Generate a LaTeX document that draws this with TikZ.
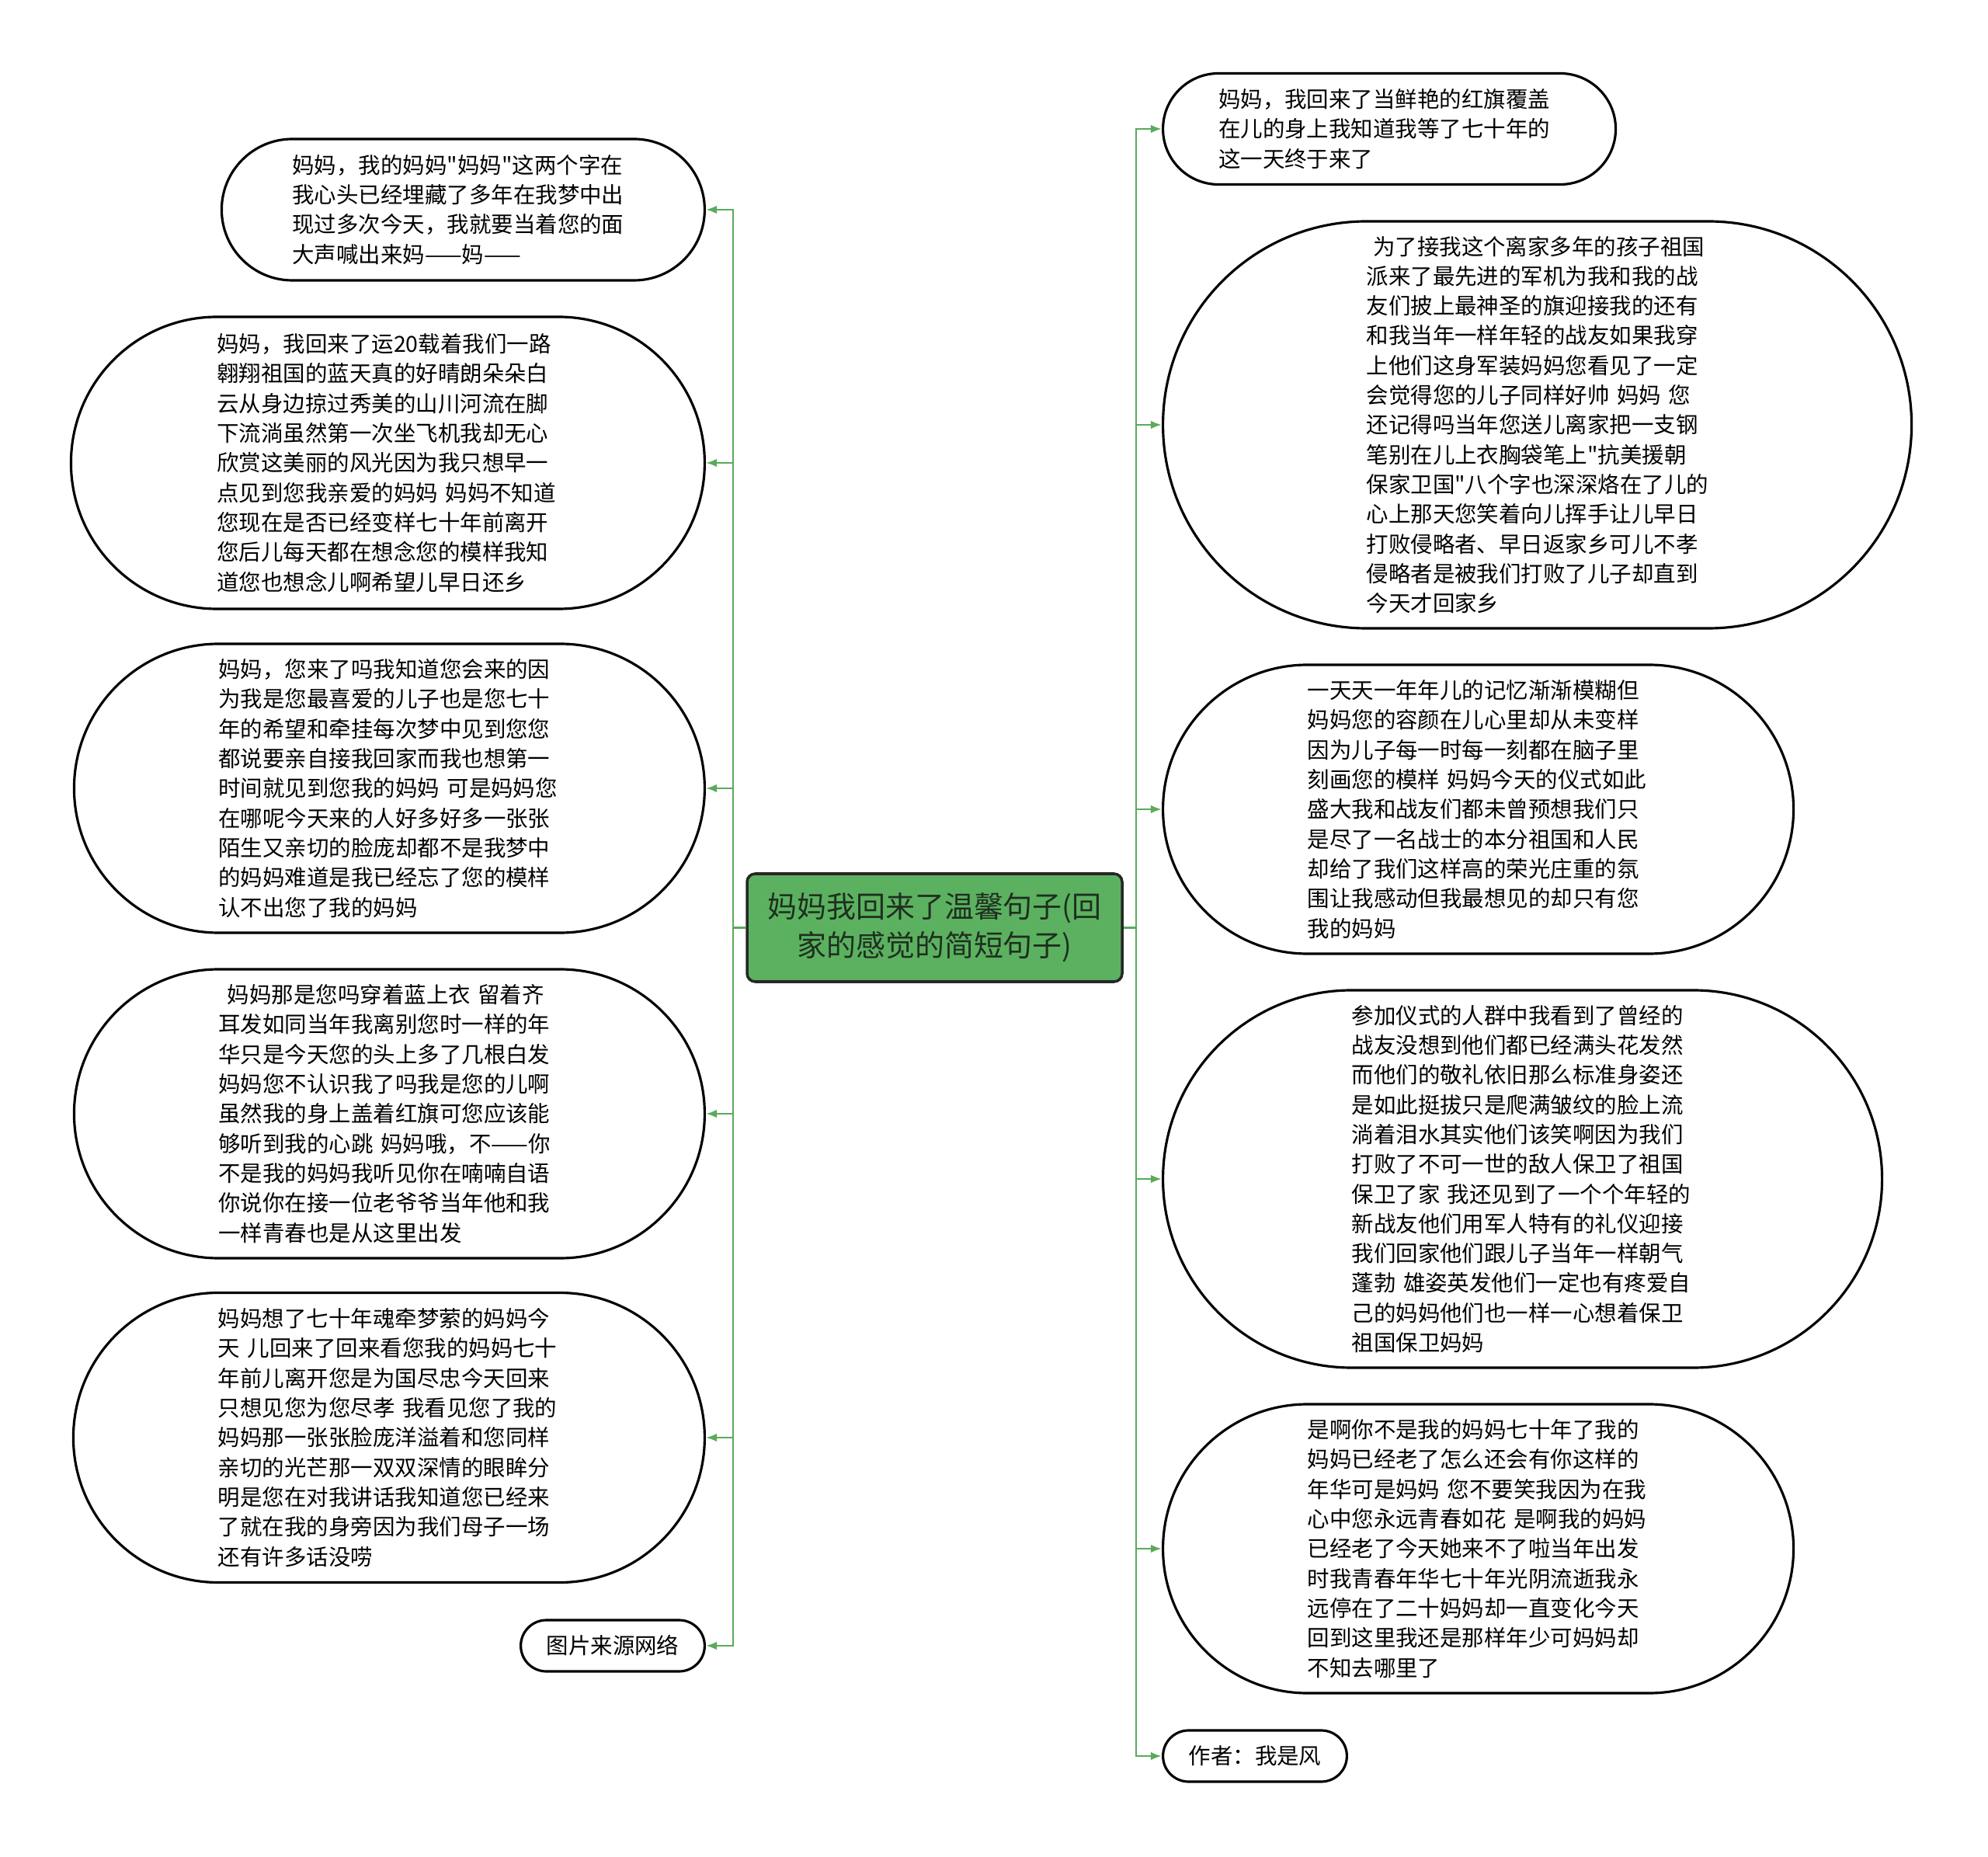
\documentclass[tikz,border=0pt]{standalone}
\usepackage{fontspec}
\setmainfont{Noto Sans CJK SC}[Ligatures=TeXOff]
\usetikzlibrary{arrows.meta}
\definecolor{branch}{HTML}{5AAA5C}
\definecolor{rootfill}{HTML}{5BB160}
\definecolor{rootink}{HTML}{1F2F1F}

\begin{document}
\begin{tikzpicture}[
  bubble/.style={rectangle,draw=black,line width=0.9pt,fill=white,minimum height=#1,rounded corners=#1/2,
    inner xsep=#1/2,inner ysep=5pt,text width=4.4cm,align=left,font=\fontsize{8.1pt}{10.9pt}\selectfont},
  tag/.style={rectangle,draw=black,line width=0.9pt,fill=white,minimum height=0.66cm,rounded corners=0.33cm,
    inner xsep=0.33cm,inner ysep=5pt,font=\fontsize{8.1pt}{10.9pt}\selectfont},
  root/.style={draw=black!85,line width=1pt,fill=rootfill,rounded corners=3pt,minimum width=4.83cm,
    minimum height=1.39cm,align=center,text=rootink,font=\fontsize{10.8pt}{14.2pt}\selectfont},
  link/.style={draw=branch,line width=0.7pt},
  ar/.style={link,-{Latex[length=4pt,width=3pt]}}]

\useasboundingbox (0,0) rectangle (25.6,-23.91);

% root
\node[root] (root) at (12.035,-11.945) {妈妈我回来了温馨句子(回\\家的感觉的简短句子)};

% left branch
\node[bubble=1.82cm,anchor=east] (l1) at (9.09,-2.70) {妈妈，我的妈妈"妈妈"这两个字在\\我心头已经埋藏了多年在我梦中出\\现过多次今天，我就要当着您的面\\大声喊出来妈——妈——};
\node[bubble=3.76cm,anchor=east] (l2) at (9.09,-5.96) {妈妈，我回来了运20载着我们一路\\翱翔祖国的蓝天真的好晴朗朵朵白\\云从身边掠过秀美的山川河流在脚\\下流淌虽然第一次坐飞机我却无心\\欣赏这美丽的风光因为我只想早一\\点见到您我亲爱的妈妈 妈妈不知道\\您现在是否已经变样七十年前离开\\您后儿每天都在想念您的模样我知\\道您也想念儿啊希望儿早日还乡};
\node[bubble=3.72cm,anchor=east] (l3) at (9.09,-10.15) {妈妈，您来了吗我知道您会来的因\\为我是您最喜爱的儿子也是您七十\\年的希望和牵挂每次梦中见到您您\\都说要亲自接我回家而我也想第一\\时间就见到您我的妈妈 可是妈妈您\\在哪呢今天来的人好多好多一张张\\陌生又亲切的脸庞却都不是我梦中\\的妈妈难道是我已经忘了您的模样\\认不出您了我的妈妈};
\node[bubble=3.72cm,anchor=east] (l4) at (9.09,-14.34) {\hspace*{0.4em}妈妈那是您吗穿着蓝上衣 留着齐\\耳发如同当年我离别您时一样的年\\华只是今天您的头上多了几根白发\\妈妈您不认识我了吗我是您的儿啊\\虽然我的身上盖着红旗可您应该能\\够听到我的心跳 妈妈哦，不——你\\不是我的妈妈我听见你在喃喃自语\\你说你在接一位老爷爷当年他和我\\一样青春也是从这里出发};
\node[bubble=3.73cm,anchor=east] (l5) at (9.09,-18.51) {妈妈想了七十年魂牵梦萦的妈妈今\\天 儿回来了回来看您我的妈妈七十\\年前儿离开您是为国尽忠今天回来\\只想见您为您尽孝 我看见您了我的\\妈妈那一张张脸庞洋溢着和您同样\\亲切的光芒那一双双深情的眼眸分\\明是您在对我讲话我知道您已经来\\了就在我的身旁因为我们母子一场\\还有许多话没唠};
\node[tag,anchor=east] (l6) at (9.09,-21.19) {图片来源网络};

% right branch
\node[bubble=1.43cm,anchor=west] (r1) at (14.96,-1.66) {妈妈，我回来了当鲜艳的红旗覆盖\\在儿的身上我知道我等了七十年的\\这一天终于来了};
\node[bubble=5.24cm,anchor=west] (r2) at (14.96,-5.47) {\hspace*{0.3em}为了接我这个离家多年的孩子祖国\\派来了最先进的军机为我和我的战\\友们披上最神圣的旗迎接我的还有\\和我当年一样年轻的战友如果我穿\\上他们这身军装妈妈您看见了一定\\会觉得您的儿子同样好帅 妈妈 您\\还记得吗当年您送儿离家把一支钢\\笔别在儿上衣胸袋笔上"抗美援朝\\保家卫国"八个字也深深烙在了儿的\\心上那天您笑着向儿挥手让儿早日\\打败侵略者、早日返家乡可儿不孝\\侵略者是被我们打败了儿子却直到\\今天才回家乡};
\node[bubble=3.72cm,anchor=west] (r3) at (14.96,-10.42) {一天天一年年儿的记忆渐渐模糊但\\妈妈您的容颜在儿心里却从未变样\\因为儿子每一时每一刻都在脑子里\\刻画您的模样 妈妈今天的仪式如此\\盛大我和战友们都未曾预想我们只\\是尽了一名战士的本分祖国和人民\\却给了我们这样高的荣光庄重的氛\\围让我感动但我最想见的却只有您\\我的妈妈};
\node[bubble=4.86cm,anchor=west] (r4) at (14.96,-15.18) {参加仪式的人群中我看到了曾经的\\战友没想到他们都已经满头花发然\\而他们的敬礼依旧那么标准身姿还\\是如此挺拔只是爬满皱纹的脸上流\\淌着泪水其实他们该笑啊因为我们\\打败了不可一世的敌人保卫了祖国\\保卫了家 我还见到了一个个年轻的\\新战友他们用军人特有的礼仪迎接\\我们回家他们跟儿子当年一样朝气\\蓬勃 雄姿英发他们一定也有疼爱自\\己的妈妈他们也一样一心想着保卫\\祖国保卫妈妈};
\node[bubble=3.72cm,anchor=west] (r5) at (14.96,-19.94) {是啊你不是我的妈妈七十年了我的\\妈妈已经老了怎么还会有你这样的\\年华可是妈妈 您不要笑我因为在我\\心中您永远青春如花 是啊我的妈妈\\已经老了今天她来不了啦当年出发\\时我青春年华七十年光阴流逝我永\\远停在了二十妈妈却一直变化今天\\回到这里我还是那样年少可妈妈却\\不知去哪里了};
\node[tag,anchor=west] (r6) at (14.96,-22.61) {作者：我是风};

% trunks
\coordinate (lj) at (9.44,-11.945);
\coordinate (rj) at (14.63,-11.945);
\draw[link] (root.west) -- (lj);
\draw[link] (root.east) -- (rj);
\foreach \n in {l1,l2,l3,l4,l5,l6} \draw[ar] (lj) |- (\n.east);
\foreach \n in {r1,r2,r3,r4,r5,r6} \draw[ar] (rj) |- (\n.west);
\end{tikzpicture}
\end{document}
